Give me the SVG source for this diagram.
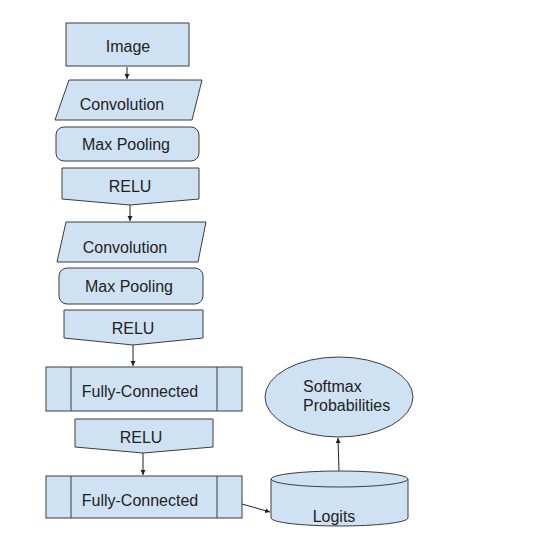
<svg xmlns="http://www.w3.org/2000/svg" width="535" height="557" viewBox="0 0 535 557">
<defs>
<style>
.n{fill:#cfe2f3;stroke:#3c3c3c;stroke-width:1}
.t{font-family:"Liberation Sans",Arial,sans-serif;font-size:16px;fill:#222}
.c{text-anchor:middle}
.e{fill:none;stroke:#222;stroke-width:1}
</style>
<marker id="a" markerWidth="6" markerHeight="6" refX="5" refY="3" orient="auto" markerUnits="userSpaceOnUse"><path d="M0,0.5 L5,3 L0,5.5 Z" fill="#222"/></marker>
</defs>
<rect width="535" height="557" fill="#fff"/>
<g id="connectors">
<line class="e" x1="127" y1="67" x2="127" y2="79" marker-end="url(#a)"/>
<line class="e" x1="130" y1="205" x2="130" y2="221" marker-end="url(#a)"/>
<line class="e" x1="133" y1="345" x2="133" y2="366" marker-end="url(#a)"/>
<line class="e" x1="143" y1="453" x2="143" y2="475" marker-end="url(#a)"/>
<line class="e" x1="242" y1="504" x2="270" y2="512" marker-end="url(#a)"/>
<line class="e" x1="339" y1="471" x2="338" y2="438" marker-end="url(#a)"/>
</g>
<g id="image">
<rect class="n" x="66" y="23" width="123" height="43"/>
<text class="t c" x="128" y="52">Image</text>
</g>
<g id="conv1">
<polygon class="n" points="69,80 202,80 192,120 55,120"/>
<text class="t c" x="122" y="110">Convolution</text>
</g>
<g id="pool1">
<rect class="n" x="56" y="127" width="143" height="34" rx="8"/>
<text class="t c" x="126" y="150">Max Pooling</text>
</g>
<g id="relu1">
<polygon class="n" points="62,168 199,168 199,199 130,205 62,199"/>
<text class="t c" x="130" y="192">RELU</text>
</g>
<g id="conv2">
<polygon class="n" points="66,222 206,222 198,262 57,262"/>
<text class="t c" x="125" y="253">Convolution</text>
</g>
<g id="pool2">
<rect class="n" x="59" y="268" width="144" height="36" rx="8"/>
<text class="t c" x="129" y="292">Max Pooling</text>
</g>
<g id="relu2">
<polygon class="n" points="64,310 203,310 203,338 133,345 64,338"/>
<text class="t c" x="133" y="334">RELU</text>
</g>
<g id="fc1">
<rect class="n" x="46" y="367" width="196" height="44"/>
<line class="n" x1="71" y1="367" x2="71" y2="411"/>
<line class="n" x1="217" y1="367" x2="217" y2="411"/>
<text class="t c" x="140" y="397">Fully-Connected</text>
</g>
<g id="relu3">
<polygon class="n" points="75,419 213,419 213,447 143,453 75,447"/>
<text class="t c" x="141" y="443">RELU</text>
</g>
<g id="fc2">
<rect class="n" x="46" y="476" width="196" height="42"/>
<line class="n" x1="71" y1="476" x2="71" y2="518"/>
<line class="n" x1="217" y1="476" x2="217" y2="518"/>
<text class="t c" x="140" y="506">Fully-Connected</text>
</g>
<g id="logits">
<path class="n" d="M271,479 L271,518 A68.5,8 0 0 0 408,518 L408,479 A68.5,8 0 0 0 271,479 Z"/>
<path class="n" d="M271,479 A68.5,8 0 0 0 408,479"/>
<text class="t c" x="334" y="522">Logits</text>
</g>
<g id="softmax">
<ellipse class="n" cx="339" cy="397" rx="74" ry="40"/>
<text class="t" x="303" y="392">Softmax</text>
<text class="t" x="303" y="411">Probabilities</text>
</g>
</svg>
